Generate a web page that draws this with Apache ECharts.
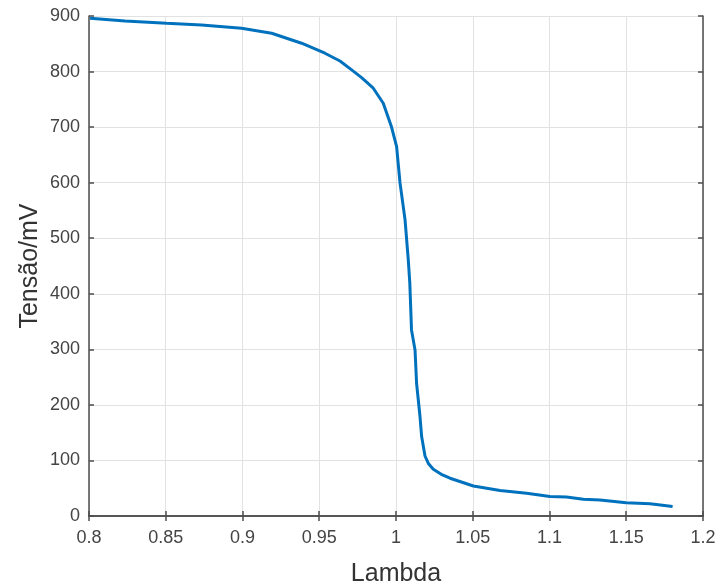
<!DOCTYPE html>
<html>
<head>
<meta charset="utf-8">
<script src="https://cdn.jsdelivr.net/npm/echarts@6/dist/echarts.min.js"></script>
<style>
  html, body { margin: 0; padding: 0; background: #fff; }
  #chart { width: 717px; height: 585px; }
</style>
</head>
<body>
<div id="chart"></div>
<script>
// valores
const lambda = [0.8007, 0.8235, 0.8505, 0.8733, 0.8994, 0.919, 0.9385, 0.9537, 0.9635, 0.9711,
  0.9776, 0.9852, 0.9917, 0.9971, 1.0004, 1.0026, 1.0059, 1.008, 1.009, 1.0101,
  1.0124, 1.0134, 1.0156, 1.0167, 1.0189, 1.0212, 1.0243, 1.0295, 1.0352, 1.0504, 1.0678, 1.0851,
  1.1003, 1.1111, 1.122, 1.1329, 1.15, 1.1655, 1.1802]
const tensao = [896, 891, 887, 884, 878, 869, 851, 833, 819, 803,
  789, 770, 743, 700, 665, 600, 533, 461, 419, 335,
  299, 239, 180, 143, 108, 94, 84, 75, 68, 54, 46, 41,
  35, 34, 30, 29, 24, 22, 17]

const textColor = '#444'
const axisColor = '#4d4d4d'
const fontFamily = 'Liberation Sans, Arial, sans-serif'

const chart = echarts.init(document.getElementById('chart'))

const axisBase = {
  type: 'value',
  axisLine: { show: true, lineStyle: { color: axisColor, width: 1.5 } },
  axisTick: { show: true, inside: true, length: 5, lineStyle: { color: axisColor, width: 1.5 } },
  splitLine: { show: false }
}

chart.setOption({
  animation: false,
  grid: { left: 89, top: 16, right: 14, bottom: 69, outerBoundsMode: 'none', containLabel: false },
  xAxis: [
    {
      ...axisBase,
      min: 0.8, max: 1.2, interval: 0.05,
      name: 'Lambda',
      nameLocation: 'middle',
      nameGap: 46,
      nameTextStyle: { fontSize: 25, color: '#333', fontFamily },
      axisLabel: {
        color: textColor, fontSize: 18, fontFamily, margin: 13,
        formatter: v => String(Math.round(v * 100) / 100)
      },
      splitLine: { show: true, lineStyle: { color: '#e2e2e2', width: 1 } }
    },
    {
      ...axisBase,
      position: 'top',
      min: 0.8, max: 1.2, interval: 0.05,
      axisLabel: { show: false }
    }
  ],
  yAxis: [
    {
      ...axisBase,
      min: 0, max: 900, interval: 100,
      name: 'Tensão/mV',
      nameLocation: 'middle',
      nameGap: 46,
      nameMoveOverlap: false,
      nameTextStyle: { fontSize: 25, color: '#333', fontFamily },
      axisLabel: { color: textColor, fontSize: 18, fontFamily, margin: 9 },
      splitLine: { show: true, lineStyle: { color: '#e2e2e2', width: 1 } }
    },
    {
      ...axisBase,
      position: 'right',
      min: 0, max: 900, interval: 100,
      axisLabel: { show: false }
    }
  ],
  series: [
    {
      type: 'line',
      data: lambda.map((x, i) => [x, tensao[i]]),
      showSymbol: false,
      smooth: false,
      lineStyle: { color: '#0072BD', width: 3 },
      itemStyle: { color: '#0072BD' }
    }
  ]
})
</script>
</body>
</html>
